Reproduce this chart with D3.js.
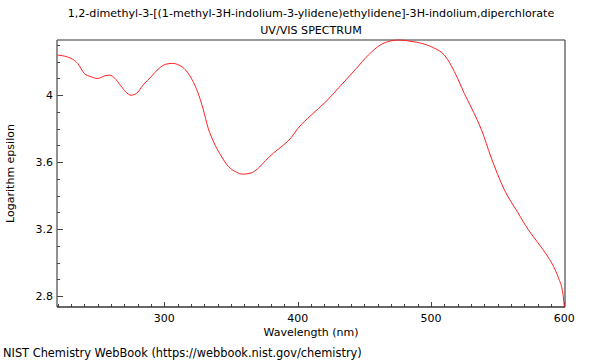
<!DOCTYPE html>
<html>
<head>
<meta charset="utf-8">
<script src="https://cdn.jsdelivr.net/npm/d3@7"></script>
<style>
  body { margin: 0; background: #fff; }
  svg text { font-family: "DejaVu Sans", sans-serif; fill: #000; }
</style>
</head>
<body>
<svg id="chart" width="600" height="360"></svg>
<script>
// Spectrum (wavelength nm, log epsilon)
const wavelength = [220, 230, 235, 240, 245, 250, 255, 259, 263, 267, 271, 275, 279, 284, 290, 296, 301, 306, 311, 316,
  321, 325, 329, 333, 337, 342, 348, 354, 359, 365, 370, 376, 382, 389, 395, 400, 410, 421, 432, 444,
  453, 462, 470, 476, 485, 493, 502, 510, 515, 520, 525, 530, 538, 545, 555, 565, 573, 580, 588,
  592, 595.5, 599, 600];
const logEps = [4.24, 4.22, 4.19, 4.13, 4.11, 4.10, 4.115, 4.12, 4.10, 4.06, 4.02, 4.00, 4.01, 4.06, 4.11, 4.16, 4.185, 4.19, 4.18, 4.15,
  4.09, 4.02, 3.92, 3.80, 3.72, 3.645, 3.575, 3.54, 3.528, 3.535, 3.56, 3.61, 3.655, 3.70, 3.745, 3.80, 3.88, 3.96, 4.055, 4.16,
  4.24, 4.30, 4.325, 4.33, 4.322, 4.31, 4.283, 4.24, 4.18, 4.10, 4.01, 3.93, 3.79, 3.63, 3.435, 3.30, 3.196, 3.12, 3.03,
  2.975, 2.91, 2.81, 2.735];

const xMajor = [300, 400, 500, 600];
const yMajor = [2.8, 3.2, 3.6, 4];

const titleLines = [
  "1,2-dimethyl-3-[(1-methyl-3H-indolium-3-ylidene)ethylidene]-3H-indolium,diperchlorate",
  "UV/VIS SPECTRUM"
];

const margin = {top: 40, right: 35, bottom: 53, left: 57};
const W = 600, H = 360;
const svg = d3.select('#chart');

const x = d3.scaleLinear().domain([219.5, 600.5]).range([margin.left, W - margin.right]);
const y = d3.scaleLinear().domain([2.734, 4.33]).range([H - margin.bottom, margin.top]);

const x0 = margin.left, x1 = W - margin.right, y0 = H - margin.bottom, y1 = margin.top;

// Frame: top light grey, others dark
svg.append('line').attr('x1', x0).attr('x2', x1).attr('y1', y1).attr('y2', y1)
  .attr('stroke', '#999').attr('stroke-width', 2);
svg.append('line').attr('x1', x1).attr('x2', x1).attr('y1', y1).attr('y2', y0)
  .attr('stroke', '#555').attr('stroke-width', 1.3);

// Ticks (inward)
const xMinor = d3.range(220, 601, 10).filter(v => !xMajor.includes(v));
const yMinor = d3.range(28, 44).map(v => v / 10).filter(v => !yMajor.includes(v));

const tg = svg.append('g').attr('stroke', '#444').attr('stroke-width', 1);
tg.selectAll('.xmin').data(xMinor).enter().append('line')
  .attr('x1', d => Math.round(x(d)) + 0.5).attr('x2', d => Math.round(x(d)) + 0.5)
  .attr('y1', y0).attr('y2', y0 - 3);
tg.selectAll('.xmaj').data(xMajor).enter().append('line')
  .attr('x1', d => Math.round(x(d)) + 0.5).attr('x2', d => Math.round(x(d)) + 0.5)
  .attr('y1', y0).attr('y2', y0 - 5);
tg.selectAll('.ymin').data(yMinor).enter().append('line')
  .attr('y1', d => Math.round(y(d)) + 0.5).attr('y2', d => Math.round(y(d)) + 0.5)
  .attr('x1', x0).attr('x2', x0 + 3);
tg.selectAll('.ymaj').data(yMajor).enter().append('line')
  .attr('y1', d => Math.round(y(d)) + 0.5).attr('y2', d => Math.round(y(d)) + 0.5)
  .attr('x1', x0).attr('x2', x0 + 6);

svg.append('line').attr('x1', x0).attr('x2', x0).attr('y1', y1).attr('y2', y0)
  .attr('stroke', '#555').attr('stroke-width', 1.3);
svg.append('line').attr('x1', x0).attr('x2', x1).attr('y1', y0).attr('y2', y0)
  .attr('stroke', '#333').attr('stroke-width', 1.3);

// Tick labels
svg.selectAll('.xl').data(xMajor).enter().append('text')
  .attr('x', d => x(d)).attr('y', y0 + 15)
  .attr('text-anchor', 'middle').attr('font-size', 11)
  .text(d => d);
svg.selectAll('.yl').data(yMajor).enter().append('text')
  .attr('x', x0 - 4).attr('y', d => y(d) + 4)
  .attr('text-anchor', 'end').attr('font-size', 11)
  .text(d => d);

// Spectrum line
const pts = wavelength.map((w, i) => [w, logEps[i]]);
svg.append('path').datum(pts)
  .attr('fill', 'none').attr('stroke', '#ff2020').attr('stroke-width', 1)
  .attr('d', d3.line().x(d => x(d[0])).y(d => y(d[1])).curve(d3.curveMonotoneX));

// Titles and axis labels
svg.selectAll('.title').data(titleLines).enter().append('text')
  .attr('x', (x0 + x1) / 2).attr('y', (d, i) => 17 + i * 17)
  .attr('text-anchor', 'middle').attr('font-size', 11.1)
  .text(d => d);

svg.append('text').attr('x', (x0 + x1) / 2).attr('y', 336)
  .attr('text-anchor', 'middle').attr('font-size', 11)
  .text('Wavelength (nm)');

svg.append('text')
  .attr('transform', `translate(14,${(y0 + y1) / 2}) rotate(-90)`)
  .attr('text-anchor', 'middle').attr('font-size', 11)
  .text('Logarithm epsilon');

svg.append('text').attr('x', 3).attr('y', 357).attr('font-size', 11.4)
  .text('NIST Chemistry WebBook (https://webbook.nist.gov/chemistry)');
</script>
</body>
</html>
